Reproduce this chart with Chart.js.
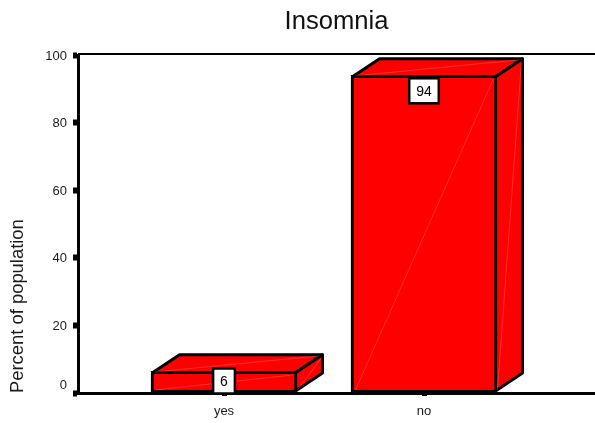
<!DOCTYPE html>
<html><head><meta charset="utf-8">
<style>html,body{margin:0;padding:0;background:#fff;overflow:hidden}canvas{display:block}</style>
<script src="https://cdn.jsdelivr.net/npm/chart.js@4"></script>
</head><body><canvas id="c" width="595" height="423"></canvas>
<script>
const categories = ["yes", "no"];
const values = [6.4, 94];
const valueLabels = ["6", "94"];
const yTicks = [0, 20, 40, 60, 80, 100];
const font = '"Liberation Sans", Arial, sans-serif';

const bar3d = {
  id: 'bar3d',
  beforeDatasetsDraw(chart) {
    const ctx = chart.ctx, dx = 27, dy = 18;
    chart.getDatasetMeta(0).data.forEach(b => {
      const l = b.x - b.width / 2 + 1.5, r = b.x + b.width / 2 - 1.5, t = b.y + 1.5, bt = b.base - 1.5;
      ctx.save();
      ctx.fillStyle = '#ff0000'; ctx.strokeStyle = '#000'; ctx.lineWidth = 3; ctx.lineJoin = 'round';
      ctx.beginPath(); ctx.moveTo(l, t); ctx.lineTo(l + dx, t - dy); ctx.lineTo(r + dx, t - dy); ctx.lineTo(r, t); ctx.closePath(); ctx.fill(); ctx.stroke();
      ctx.beginPath(); ctx.moveTo(r, t); ctx.lineTo(r + dx, t - dy); ctx.lineTo(r + dx, bt - dy); ctx.lineTo(r, bt); ctx.closePath(); ctx.fill(); ctx.stroke();
      ctx.restore();
    });
  },
  afterDatasetsDraw(chart) {
    const ctx = chart.ctx, dx = 27, dy = 18;
    chart.getDatasetMeta(0).data.forEach((b, i) => {
      const l = b.x - b.width / 2 + 1.5, r = b.x + b.width / 2 - 1.5, t = b.y + 1.5, bt = b.base - 1.5;
      ctx.save();
      ctx.strokeStyle = 'rgba(255,170,170,0.55)'; ctx.lineWidth = 0.5;
      [[l + 3, bt - 1, r - 2, t + 2], [l + 3, t - 1, r + dx - 3, t - dy + 1], [r + 2, bt - 1, r + dx - 1, t - dy + 3]].forEach(s => {
        ctx.beginPath(); ctx.moveTo(s[0], s[1]); ctx.lineTo(s[2], s[3]); ctx.stroke();
      });
      ctx.font = '14px ' + font;
      const text = valueLabels[i], w = ctx.measureText(text).width + 14, h = 25;
      const cy = Math.min(b.y + 15.5, b.base - 11.5);
      ctx.fillStyle = '#fff'; ctx.strokeStyle = '#000'; ctx.lineWidth = 2.5;
      ctx.fillRect(b.x - w / 2, cy - h / 2, w, h); ctx.strokeRect(b.x - w / 2, cy - h / 2, w, h);
      ctx.fillStyle = '#000'; ctx.textAlign = 'center'; ctx.textBaseline = 'middle';
      ctx.fillText(text, b.x, cy + 1);
      ctx.restore();
    });
  },
  afterDraw(chart) {
    const ctx = chart.ctx, a = chart.chartArea, y = chart.scales.y;
    ctx.save();
    ctx.strokeStyle = '#000'; ctx.lineWidth = 2;
    ctx.beginPath(); ctx.moveTo(a.left, a.top - 1); ctx.lineTo(a.right, a.top - 1); ctx.stroke();
    ctx.font = '13px ' + font; ctx.fillStyle = '#1a1a1a'; ctx.textAlign = 'right'; ctx.textBaseline = 'middle';
    y.ticks.forEach((t, i) => {
      ctx.fillText(t.label, 67, y.getPixelForTick(i) + (t.value === 0 ? -8 : 1));
    });
    ctx.restore();
  }
};

new Chart(document.getElementById('c'), {
  type: 'bar',
  plugins: [bar3d],
  data: {
    datasets: [{
      data: categories.map((c, i) => ({ x: i, y: values[i] })),
      backgroundColor: '#ff0000',
      borderColor: '#000',
      borderWidth: 3,
      borderSkipped: false,
      barThickness: 146,
      clip: false
    }]
  },
  options: {
    responsive: false,
    animation: false,
    layout: { padding: { left: 0, right: 0, top: 0, bottom: 0 } },
    plugins: {
      legend: { display: false },
      tooltip: { enabled: false },
      title: {
        display: true, text: 'Insomnia', fullSize: false, color: '#111',
        font: { family: font, size: 25.6, weight: 'normal', lineHeight: 1.2 },
        padding: { top: 6.6, bottom: 17.7 }
      }
    },
    scales: {
      x: {
        type: 'linear', min: -0.73, max: 1.855, offset: false,
        afterBuildTicks(s) { s.ticks = categories.map((c, i) => ({ value: i })); },
        afterFit(s) { s.height = 30; },
        ticks: { callback: v => categories[v], font: { family: font, size: 13 }, color: '#1a1a1a', padding: 8, maxRotation: 0, autoSkip: false },
        grid: { offset: false, drawOnChartArea: false, drawTicks: true, tickLength: 3, tickWidth: 5, tickColor: '#000' },
        border: { color: '#000', width: 3 }
      },
      y: {
        min: 0, max: 100,
        afterBuildTicks(s) { s.ticks = yTicks.map(v => ({ value: v })); },
        afterFit(s) { s.width = 78; },
        ticks: { display: false },
        title: { display: true, text: 'Percent of population', align: 'start', color: '#1a1a1a', font: { family: font, size: 18.4 }, padding: { top: 7, bottom: 0 } },
        grid: { drawOnChartArea: false, drawTicks: true, tickLength: 5, tickWidth: 6, tickColor: '#000' },
        border: { color: '#000', width: 3 }
      }
    }
  }
});
</script></body></html>
